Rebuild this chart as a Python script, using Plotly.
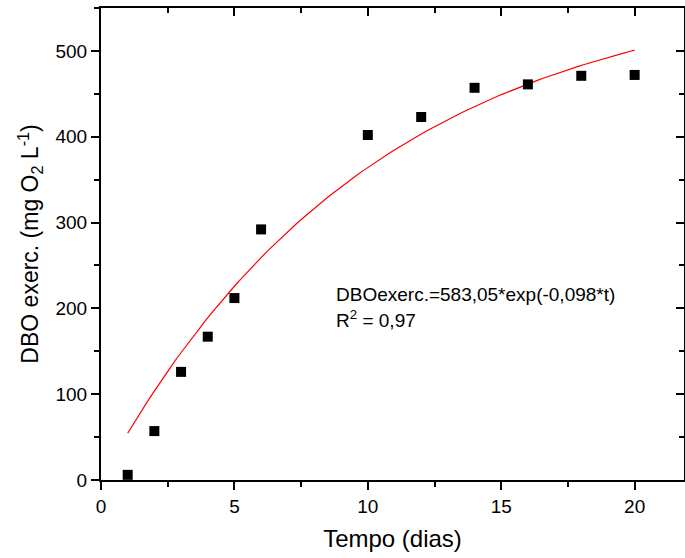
import numpy as np
import plotly.graph_objects as go

# Observed data
tempo = [1, 2, 3, 4, 5, 6, 10, 12, 14, 16, 18, 20]
dbo = [6, 57, 126, 167, 212, 292, 402, 423, 457, 461, 471, 472]

# Fitted model parameters (as annotated in the chart)
fit_A = 583.05
fit_k = 0.098
fit_t = np.linspace(1, 20, 100)
fit_y = fit_A * (1 - np.exp(-fit_k * fit_t))

x_ticks = [0, 5, 10, 15, 20]
y_ticks = [0, 100, 200, 300, 400, 500]
x_range = [0, 21.85]
y_range = [0, 550]

font_family = "Liberation Sans, Arial, sans-serif"

fig = go.Figure()
fig.add_trace(go.Scatter(x=fit_t, y=fit_y, mode="lines",
                         line=dict(color="red", width=1.2), showlegend=False))
fig.add_trace(go.Scatter(x=tempo, y=dbo, mode="markers",
                         marker=dict(symbol="square", size=10, color="black",
                                     line=dict(width=0)),
                         showlegend=False))
# dummy trace for top/right axes
fig.add_trace(go.Scatter(x=[None], y=[None], xaxis="x2", yaxis="y2", showlegend=False))

axis_common = dict(showgrid=False, zeroline=False, linecolor="black", linewidth=2,
                   tickcolor="black", tickwidth=2, automargin=False)

fig.update_layout(
    width=685, height=558,
    margin=dict(l=101, r=1, t=8, b=78),
    paper_bgcolor="white", plot_bgcolor="white",
    font=dict(family=font_family, color="black"),
    xaxis=dict(range=x_range, tickvals=x_ticks, ticks="outside", ticklen=8,
               showline=True, tickfont=dict(size=19),
               title=dict(text="Tempo (dias)", font=dict(size=24), standoff=14),
               minor=dict(ticks="outside", dtick=2.5, tick0=0, ticklen=5,
                          tickwidth=2, tickcolor="black"),
               **axis_common),
    yaxis=dict(range=y_range, tickvals=y_ticks, ticks="outside", ticklen=8,
               showline=True, tickfont=dict(size=19),
               title=dict(text="DBO exerc. (mg O<sub>2</sub> L<sup>-1</sup>)",
                          font=dict(size=23), standoff=10),
               minor=dict(ticks="outside", dtick=50, tick0=0, ticklen=5,
                          tickwidth=2, tickcolor="black"),
               **axis_common),
    xaxis2=dict(range=x_range, overlaying="x", side="top", anchor="y",
                tickvals=x_ticks, ticks="inside", ticklen=8, showticklabels=False,
                showline=True,
                minor=dict(ticks="inside", dtick=2.5, tick0=0, ticklen=5,
                           tickwidth=2, tickcolor="black"),
                **axis_common),
    yaxis2=dict(range=y_range, overlaying="y", side="right", anchor="x",
                tickvals=y_ticks, ticks="inside", ticklen=8, showticklabels=False,
                showline=True,
                minor=dict(ticks="inside", dtick=50, tick0=0, ticklen=5,
                           tickwidth=2, tickcolor="black"),
                **axis_common),
    annotations=[
        dict(x=8.72, y=216, xref="x", yref="y", xanchor="left", yanchor="middle",
             text="DBOexerc.=583,05*exp(-0,098*t)", showarrow=False,
             font=dict(size=19, family=font_family)),
        dict(x=8.72, y=188, xref="x", yref="y", xanchor="left", yanchor="middle",
             text="R<sup>2</sup> = 0,97", showarrow=False,
             font=dict(size=19, family=font_family)),
    ],
)

fig.write_html(
    "out.html",
    config={"displayModeBar": False},
    post_script="document.body.style.margin='0';document.body.style.overflow='hidden';",
)
